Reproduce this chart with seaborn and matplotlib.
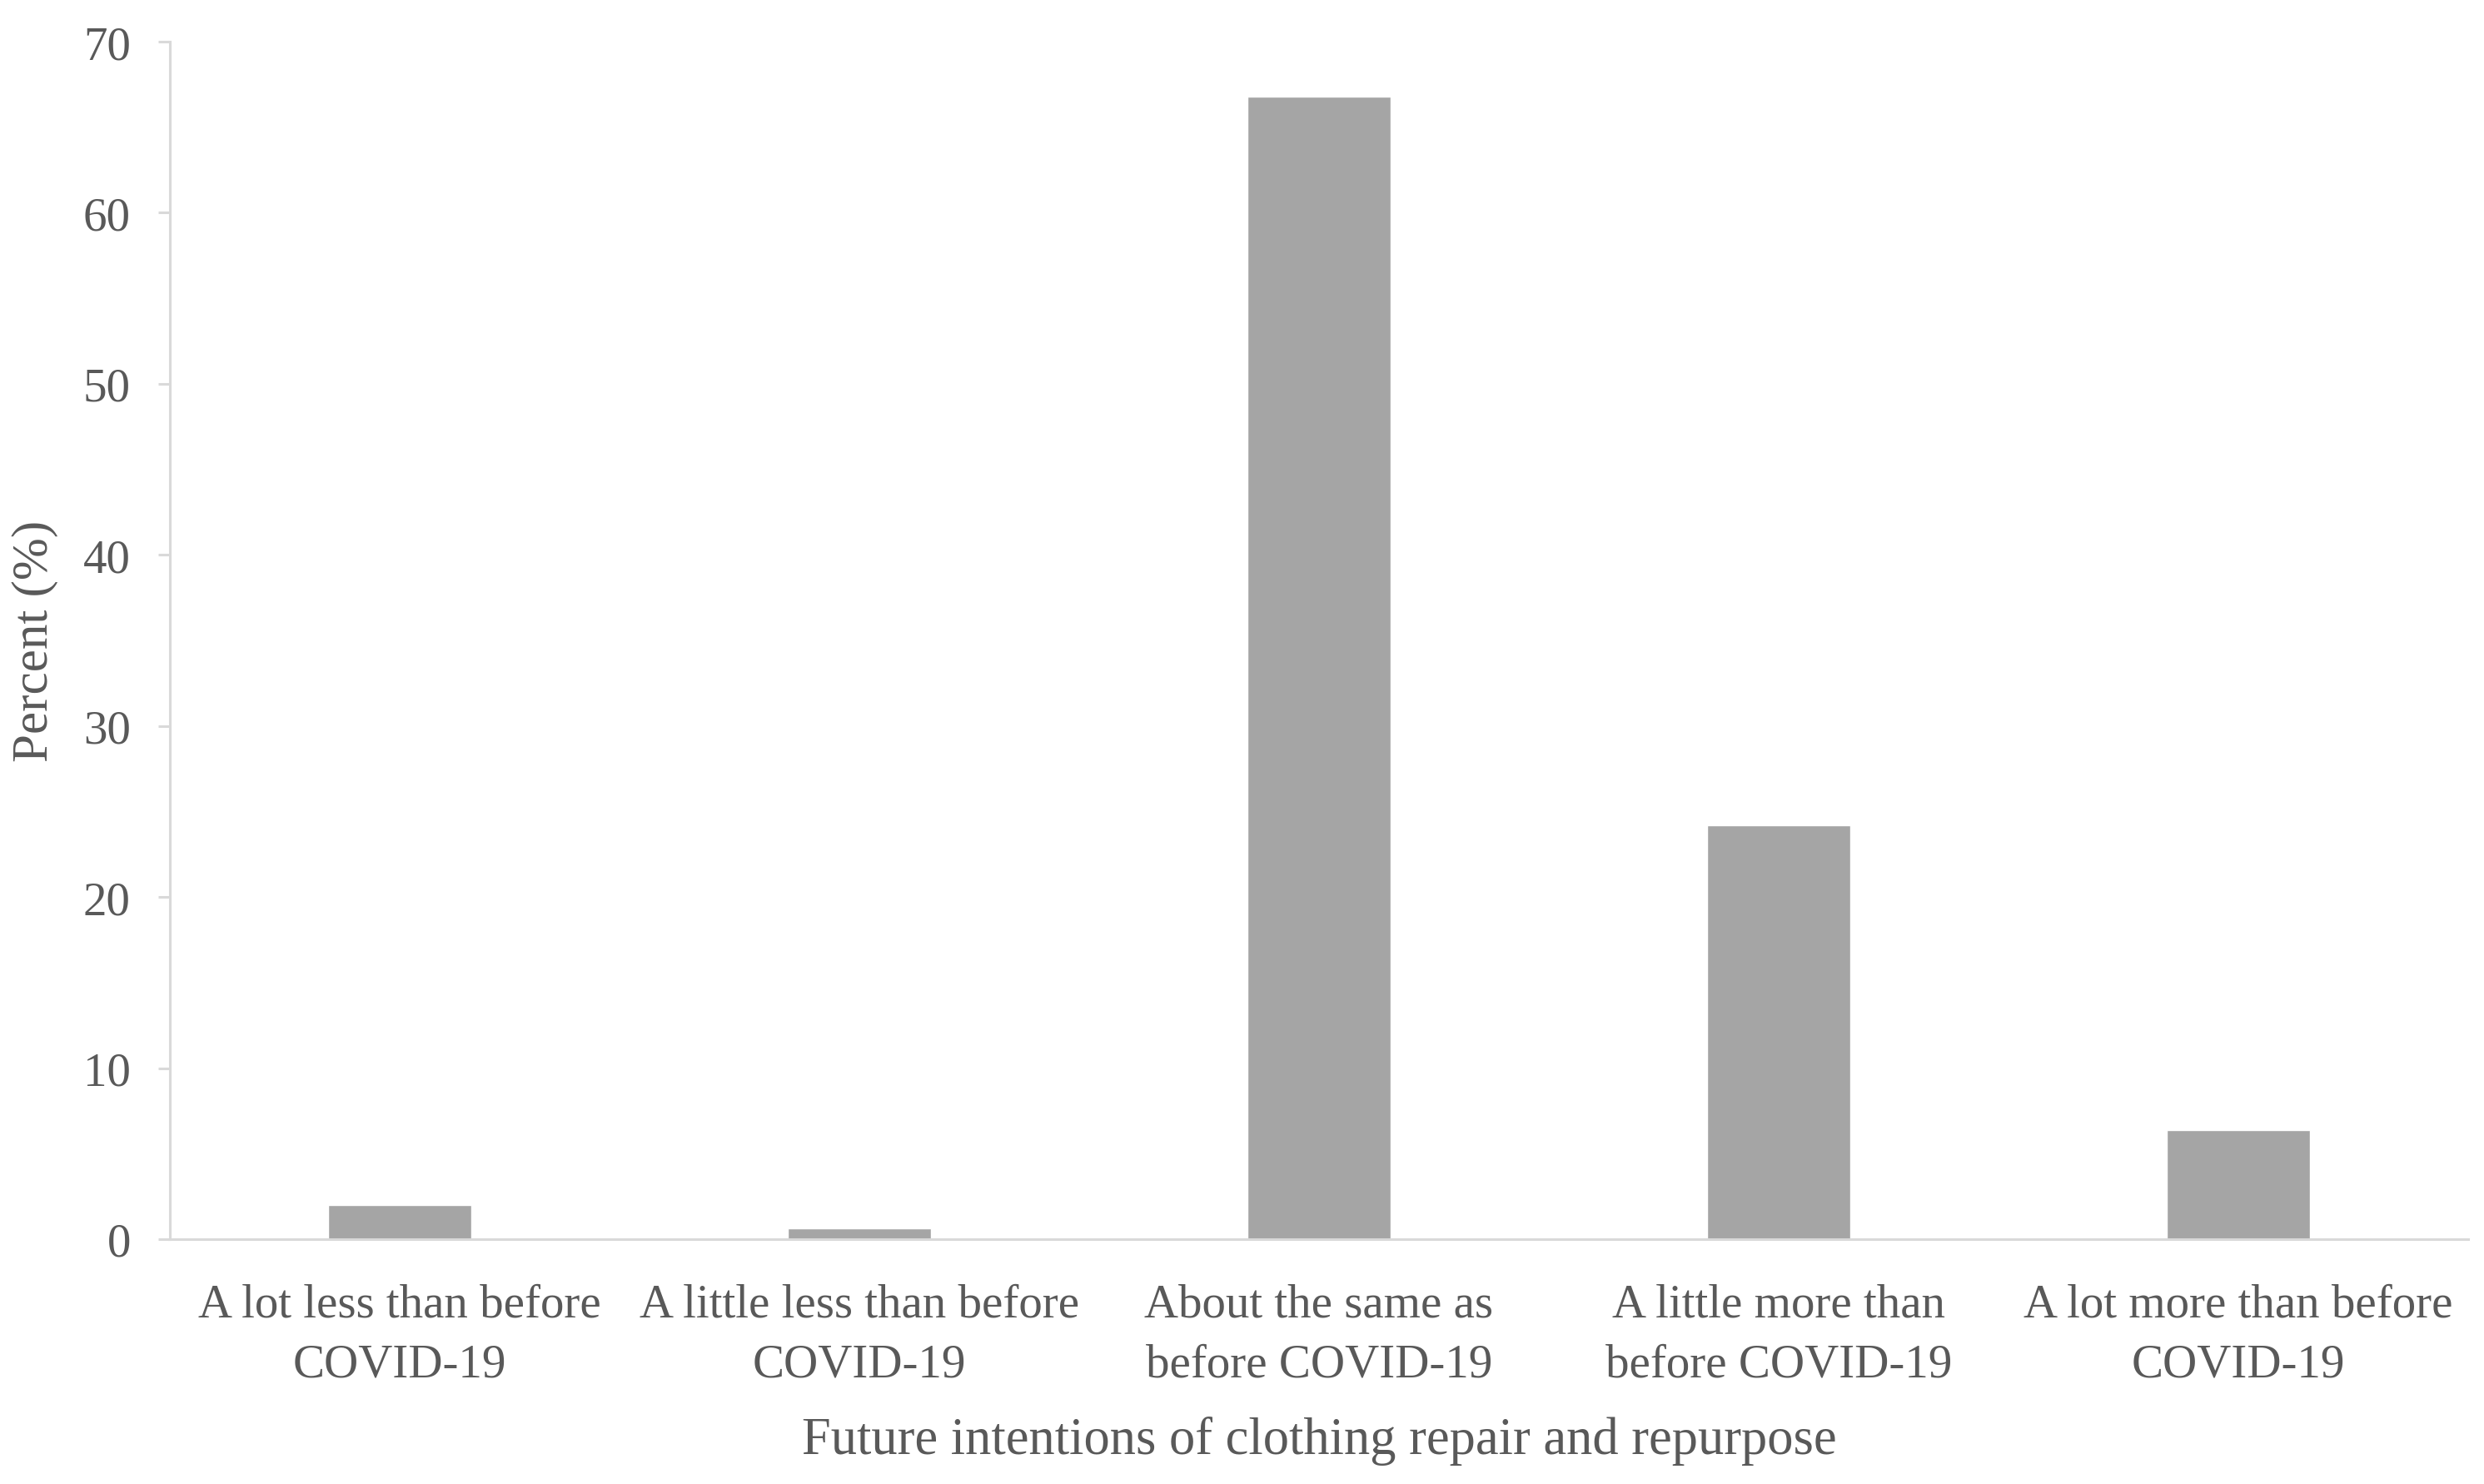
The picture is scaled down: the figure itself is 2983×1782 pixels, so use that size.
import matplotlib
matplotlib.use("Agg")
import matplotlib.pyplot as plt
import seaborn as sns
import pandas as pd

categories = ["A lot less than before\nCOVID-19",
              "A little less than before\nCOVID-19",
              "About the same as\nbefore COVID-19",
              "A little more than\nbefore COVID-19",
              "A lot more than before\nCOVID-19"]
values = [2.0, 0.65, 66.8, 24.2, 6.4]
yticks = [0, 10, 20, 30, 40, 50, 60, 70]

sns.set_theme(style="white")
plt.rcParams['font.family'] = ['Liberation Serif', 'DejaVu Serif']

text_color = "#595959"
axis_color = "#D9D9D9"
fs = 41

fig = plt.figure(figsize=(29.83, 17.83), dpi=100)
ax = fig.add_axes([204/2983, 1 - 1489/1783, (2964-204)/2983, (1489-51)/1783])

df = pd.DataFrame({"cat": categories, "val": values})
sns.barplot(data=df, x="cat", y="val", color="#A5A5A5", saturation=1,
            width=0.313, ax=ax)

ax.set_ylim(0, 70)
ax.set_xlim(-0.5, 4.5)
ax.set_yticks(yticks)
ax.set_yticklabels([str(t) for t in yticks])

for s in ["top", "right"]:
    ax.spines[s].set_visible(False)
for s in ["left", "bottom"]:
    ax.spines[s].set_color(axis_color)
    ax.spines[s].set_linewidth(2.2)

ax.tick_params(axis="y", which="both", left=True, length=10, width=2.2,
               color=axis_color, labelsize=fs, labelcolor=text_color, pad=24)
ax.tick_params(axis="x", which="both", bottom=False, labelsize=fs,
               labelcolor=text_color, pad=32)
for lbl in ax.get_xticklabels():
    lbl.set_linespacing(1.5)

ax.set_xlabel("Future intentions of clothing repair and repurpose",
              fontsize=45, color=text_color)
ax.set_ylabel("Percent (%)", fontsize=44, color=text_color)
ax.xaxis.set_label_coords(0.5, -(1731-1489)/1438, transform=ax.transAxes)
ax.yaxis.set_label_coords(-(204-42)/2760, (1489-770)/1438, transform=ax.transAxes)
ax.xaxis.label.set_va("center")
ax.yaxis.label.set_va("center")

fig.savefig("out.png", dpi=100, facecolor="white")
